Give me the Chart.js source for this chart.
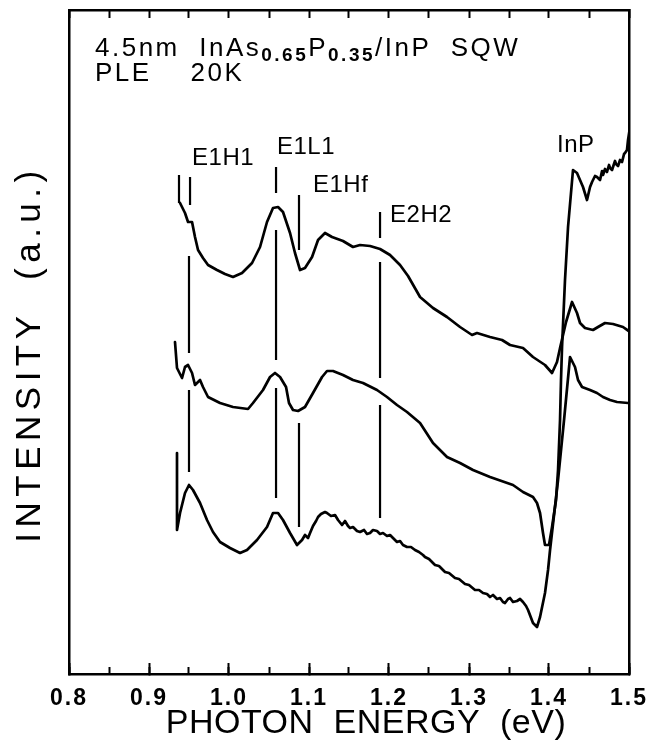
<!DOCTYPE html>
<html>
<head>
<meta charset="utf-8">
<script src="https://cdn.jsdelivr.net/npm/chart.js@4.4.0/dist/chart.umd.min.js"></script>
<style>
html,body{margin:0;padding:0;background:#fff;}
canvas{display:block;}
</style>
</head>
<body>
<canvas id="c" width="653" height="744"></canvas>
<script>
// ---------------- data (photon energy in eV, intensity in a.u.) ----------------
const energyA = [0.9388,0.945,0.9488,0.9538,0.9575,0.9613,0.9675,0.9738,0.985,0.995,1.005,1.0163,1.0288,1.0388,1.0475,1.055,1.0613,1.0675,1.0763,1.0825,1.0888,1.095,1.1038,1.1113,1.12,1.1288,1.1425,1.155,1.1638,1.1763,1.1888,1.2013,1.2138,1.2238,1.2388,1.255,1.2725,1.2888,1.3038,1.31,1.3263,1.3413,1.3513,1.3675,1.38,1.395,1.4038,1.41,1.4138,1.4213,1.4288,1.435,1.4388,1.445,1.455,1.4613,1.47,1.48,1.4925,1.5013];
const intensityA = [47.1,46.1,45.2,45.2,43.7,42.4,41.6,40.9,40.4,40.0,39.7,40.1,41.1,42.7,45.2,46.6,46.7,46.2,44.1,42.1,40.4,40.6,41.7,43.4,44.1,43.7,43.3,42.7,42.9,42.8,42.5,41.9,40.9,39.8,37.7,36.6,35.7,34.7,33.9,34.1,33.7,33.4,32.9,32.6,31.7,30.9,30.1,31.2,32.6,35.2,37.2,36.1,35.1,34.6,34.4,34.7,35.1,35.0,34.7,34.2];

const energyB = [0.9325,0.935,0.9413,0.945,0.9488,0.9538,0.9575,0.9638,0.9675,0.9738,0.9888,1.005,1.0238,1.03,1.0425,1.0513,1.0575,1.0638,1.0713,1.075,1.08,1.0863,1.095,1.105,1.1163,1.1225,1.13,1.1425,1.155,1.1675,1.185,1.1975,1.21,1.2225,1.2388,1.255,1.2725,1.2888,1.305,1.3263,1.355,1.3675,1.38,1.385,1.3888,1.3925,1.395,1.4,1.4038,1.4088,1.4113,1.4138,1.415,1.4163,1.42,1.4238,1.43,1.435,1.4425,1.4475,1.4513,1.4538,1.4575,1.46,1.4638,1.4663,1.4675,1.47,1.4725,1.475,1.4763,1.4788,1.48,1.4825,1.4838,1.4863,1.4888,1.4913,1.4938,1.495,1.4975,1.4988,1.5013];
const intensityB = [33.2,30.6,29.6,30.7,30.9,30.1,28.9,29.4,28.7,27.7,27.1,26.7,26.5,27.1,28.4,29.7,30.1,29.7,28.7,27.1,26.4,26.3,26.7,28.1,29.7,30.3,30.3,29.9,29.4,29.1,28.4,27.7,26.9,26.2,25.1,23.1,21.7,21.1,20.4,19.7,18.9,18.2,17.7,17.1,16.1,14.1,12.9,12.9,14.7,17.4,20.4,25.4,29.4,32.7,39.4,44.7,50.4,50.1,48.7,47.4,48.7,49.2,49.8,49.7,49.4,50.3,49.9,50.5,50.2,50.9,50.6,50.4,50.7,51.3,51.0,50.8,51.4,51.2,52.0,52.1,52.4,53.4,54.7];

const energyC = [0.935,0.935,0.9388,0.945,0.95,0.955,0.9638,0.9725,0.98,0.9888,1.0013,1.0138,1.0225,1.035,1.0475,1.055,1.0613,1.0675,1.0763,1.085,1.0913,1.095,1.0988,1.1013,1.105,1.1088,1.1113,1.115,1.12,1.1225,1.1275,1.1325,1.1363,1.1413,1.145,1.1488,1.1513,1.155,1.16,1.1638,1.1688,1.1725,1.1763,1.18,1.185,1.1888,1.1925,1.1975,1.2013,1.205,1.21,1.2138,1.2175,1.2225,1.2275,1.2325,1.2375,1.2425,1.245,1.25,1.2575,1.2625,1.27,1.275,1.2825,1.2875,1.295,1.3,1.3075,1.3125,1.3175,1.3225,1.3263,1.33,1.335,1.3388,1.3425,1.345,1.3488,1.3513,1.355,1.36,1.3638,1.3675,1.3713,1.3738,1.38,1.385,1.3888,1.395,1.3988,1.4013,1.4063,1.4113,1.4188,1.4263,1.4325,1.4363,1.4413,1.4513,1.46,1.4675,1.4763,1.485,1.4988];
const intensityC = [22.1,14.4,16.1,18.1,18.9,18.4,17.1,15.4,14.2,13.2,12.6,12.1,12.4,13.4,14.7,16.1,16.1,15.4,14.1,12.9,13.4,13.9,13.6,14.1,14.8,15.3,15.7,16.0,16.2,16.1,15.8,15.9,15.4,14.9,15.3,14.8,14.6,14.7,14.3,14.2,14.4,14.0,14.1,14.4,14.3,14.0,14.1,13.8,13.9,13.6,13.2,13.3,12.9,12.7,12.7,12.4,12.2,11.9,11.7,11.5,10.9,10.8,10.2,10.1,9.6,9.5,9.0,8.9,8.4,8.4,8.1,8.0,7.7,7.9,7.5,7.6,7.2,7.1,7.5,7.6,7.2,7.3,7.5,7.2,6.8,6.4,5.1,4.7,5.7,8.1,10.4,12.4,15.9,19.4,25.4,31.7,30.7,29.4,28.7,28.4,28.1,27.7,27.4,27.2,27.1];

// transition marker segments (energy, top level, bottom level)
const markerEnergy = [0.9375,0.9513,0.95,0.95,1.0588,1.0588,1.0588,1.0875,1.0875,1.1888,1.1888,1.1888];
const markerTop    = [49.9,49.7,41.8,28.4,50.7,44.4,28.6,47.9,25.1,46.2,41.2,26.9];
const markerBottom = [47.1,46.9,32.1,20.2,48.1,31.4,17.6,42.4,14.7,43.6,29.6,15.6];

// axis ticks
const xMin = 0.8, xMax = 1.5, xStep = 0.1, xMinorStep = 0.05;
const yMin = 0, yMax = 66.4;

// transition labels
const labelTexts  = ['E1H1','E1L1','E1Hf','E2H2','InP'];
const labelEnergy = [0.9538,1.06,1.105,1.2013,1.41];
const labelLevel  = [50.9,52.0,48.2,45.2,52.2];

// header text
const headerLine1 = [{t:'4.5nm  InAs'},{t:'0.65',sub:true},{t:'P'},{t:'0.35',sub:true},{t:'/InP  SQW'}];
const headerLine2 = [{t:'PLE    20K'}];

// ---------------- build ----------------
function zip(xs, ys){ const n=Math.min(xs.length,ys.length); const o=[]; for(let i=0;i<n;i++) o.push({x:xs[i],y:ys[i]}); return o; }
const markerPts = [];
markerEnergy.forEach((e,i)=>{ markerPts.push({x:e,y:markerTop[i]},{x:e,y:markerBottom[i]},{x:e,y:null}); });

const FONT = "'Liberation Sans', Arial, Helvetica, sans-serif";

// plotter-like letter spacing and title offsets
if (Chart.Scale) {
  const oTitle = Chart.Scale.prototype.drawTitle;
  Chart.Scale.prototype.drawTitle = function(){
    const c=this.ctx, prev=c.letterSpacing;
    c.save();
    if (this.id==='y') { c.letterSpacing = '5.5px'; c.translate(0, 12); }
    else { c.letterSpacing = '0.5px'; c.translate(17, 0); }
    oTitle.apply(this, arguments);
    c.restore();
    c.letterSpacing = prev || '0px';
  };
  const oLabels = Chart.Scale.prototype.drawLabels;
  Chart.Scale.prototype.drawLabels = function(){
    const c=this.ctx, prev=c.letterSpacing;
    c.letterSpacing = '2px';
    oLabels.apply(this, arguments);
    c.letterSpacing = prev || '0px';
  };
}

const annotations = [
  {parts: headerLine1, energy: 0.8325, level: 61.8, size: 26, spacing: 2.5},
  {parts: headerLine2, energy: 0.8325, level: 59.3, size: 26, spacing: 2.5},
];
labelTexts.forEach((t,i)=>annotations.push({parts:[{t}], energy: labelEnergy[i], level: labelLevel[i], size: 24, spacing: 0.5}));

const textPlugin = {
  id: 'annotText',
  afterDatasetsDraw(chart){
    const {ctx, scales:{x, y}} = chart;
    ctx.save();
    ctx.fillStyle = '#000';
    ctx.textAlign = 'left';
    ctx.textBaseline = 'alphabetic';
    annotations.forEach(a=>{
      let px = x.getPixelForValue(a.energy);
      const py = y.getPixelForValue(a.level);
      ctx.letterSpacing = a.spacing + 'px';
      a.parts.forEach(p=>{
        const s = p.sub ? Math.round(a.size*0.72) : a.size;
        ctx.font = (p.sub ? 'bold ' : '') + s + 'px ' + FONT;
        ctx.fillText(p.t, px, py + (p.sub ? 5 : 0));
        px += ctx.measureText(p.t).width;
      });
    });
    ctx.restore();
  }
};

const lineStyle = {borderColor:'#000', borderWidth:2.7, pointRadius:0, fill:false, tension:0, borderJoinStyle:'round', borderCapStyle:'round'};

new Chart(document.getElementById('c').getContext('2d'), {
  type: 'line',
  data: {
    datasets: [
      Object.assign({label:'A', data: zip(energyA, intensityA)}, lineStyle),
      Object.assign({label:'B', data: zip(energyB, intensityB)}, lineStyle),
      Object.assign({label:'C', data: zip(energyC, intensityC)}, lineStyle),
      {label:'markers', data: markerPts, borderColor:'#000', borderWidth:2.2, pointRadius:0, spanGaps:false, fill:false, borderCapStyle:'butt'}
    ]
  },
  plugins: [textPlugin],
  options: {
    responsive: false,
    animation: false,
    events: [],
    layout: {padding: {top: 10, right: 24, left: 0, bottom: 0}},
    plugins: {legend: {display:false}, tooltip: {enabled:false}},
    scales: {
      x: {
        type:'linear', position:'bottom', min:xMin, max:xMax, weight:1,
        ticks: {stepSize:xStep, autoSkip:false, maxRotation:0, color:'#000', padding:22,
                font:{family:FONT, size:23, weight:'bold'}, callback: v => Number(v).toFixed(1)},
        grid: {drawOnChartArea:false, drawTicks:true, tickLength:-11, tickWidth:2, tickColor:'#000'},
        border: {display:true, color:'#000', width:2.5},
        title: {display:true, text:'PHOTON  ENERGY  (eV)', color:'#000', font:{family:FONT, size:34}, padding:{top:0, bottom:0}},
        afterFit: s => { s.height = 70; s.paddingLeft = 0; s.paddingRight = 0; }
      },
      xMinor: {
        type:'linear', position:'bottom', min:xMin, max:xMax, weight:0,
        ticks: {display:false, stepSize:xMinorStep, autoSkip:false},
        grid: {drawOnChartArea:false, drawTicks:true, tickLength:-7, tickWidth:2, tickColor:'#000'},
        border: {display:false},
        afterFit: s => { s.height = 0; s.paddingLeft = 0; s.paddingRight = 0; }
      },
      xTop: {
        type:'linear', position:'top', min:xMin, max:xMax,
        ticks: {display:false, stepSize:xMinorStep, autoSkip:false},
        grid: {drawOnChartArea:false, drawTicks:true, tickLength:-8, tickWidth:2, tickColor:'#000'},
        border: {display:true, color:'#000', width:2.5},
        afterFit: s => { s.height = 0; s.paddingLeft = 0; s.paddingRight = 0; }
      },
      y: {
        type:'linear', position:'left', min:yMin, max:yMax,
        ticks: {display:false},
        grid: {display:false},
        border: {display:true, color:'#000', width:2.5},
        title: {display:true, text:'INTENSITY  (a.u.)', color:'#000', font:{family:FONT, size:35}, padding:{top:9, bottom:0}},
        afterFit: s => { s.width = 69; }
      },
      yRight: {
        type:'linear', position:'right', min:yMin, max:yMax,
        ticks: {display:false},
        grid: {display:false},
        border: {display:true, color:'#000', width:2.5},
        afterFit: s => { s.width = 0; }
      }
    }
  }
});
</script>
</body>
</html>
